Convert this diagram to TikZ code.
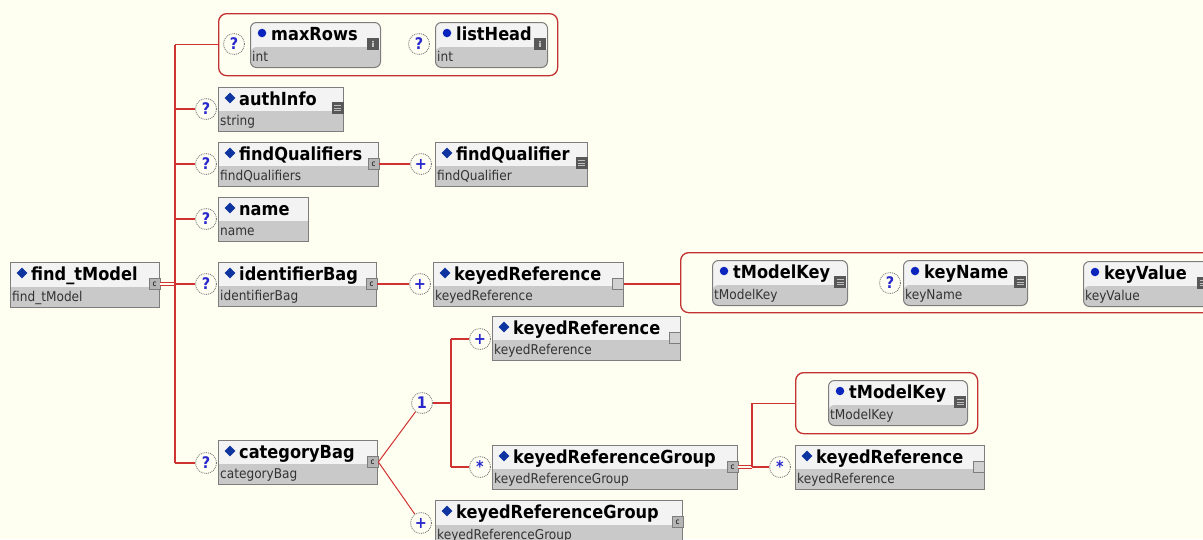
\documentclass[tikz,border=0pt]{standalone}
\usepackage{fontspec}
\setmainfont{DejaVu Sans}[FakeStretch=0.9]
\definecolor{bgc}{RGB}{255,255,241}
\definecolor{hdr}{RGB}{243,243,243}
\definecolor{tgray}{RGB}{201,201,201}
\definecolor{bord}{RGB}{125,125,125}
\definecolor{redc}{RGB}{208,50,50}
\definecolor{grpred}{RGB}{195,50,50}
\definecolor{dblue}{RGB}{14,52,160}
\definecolor{sblue}{RGB}{40,40,205}
\definecolor{icdark}{RGB}{88,88,88}
\tikzset{
  ebox/.style={draw=bord, fill=hdr, rectangle, anchor=north west, inner sep=0pt, line width=1pt,
    path picture={\fill[tgray] ([yshift=20.5pt]path picture bounding box.south west) rectangle (path picture bounding box.south east);}},
  abox/.style={ebox, rounded corners=6pt},
  ttl/.style={anchor=base west, inner sep=0pt, font=\fontsize{18}{20}\selectfont\bfseries, text=black},
  typ/.style={anchor=base west, inner sep=0pt, font=\fontsize{13.5}{15}\selectfont, text=black!80},
  dmd/.style={rectangle, rotate=45, fill=dblue, minimum size=7.5pt, inner sep=0pt},
  dotm/.style={circle, fill=dblue!70!blue, minimum size=8.5pt, inner sep=0pt},
  occ/.style={circle, draw=bord, densely dotted, fill=white!95!yellow, minimum size=21pt, inner sep=0pt, text=sblue, font=\fontsize{16}{16}\selectfont\bfseries, line width=0.9pt},
  conn/.style={draw=redc, line width=1.3pt},
  tconn/.style={draw=redc, line width=1pt, double=bgc, double distance=1.2pt},
  grp/.style={draw=grpred, rounded corners=8pt, line width=1.3pt, anchor=north west, inner sep=0pt, rectangle},
  ic/.style={rectangle, minimum size=11pt, inner sep=0pt, draw=bord, line width=0.7pt},
  cic/.style={ic, fill=tgray!90!black, font=\fontsize{8}{8}\selectfont, text=black},
  iic/.style={ic, fill=icdark, draw=icdark, text=white, font=\fontsize{8}{8}\selectfont\bfseries},
  lic/.style={ic, fill=icdark, draw=icdark, path picture={
    \foreach \k in {3,5.5,8}{\draw[white!75!black, line width=0.8pt] ([xshift=2pt,yshift=-\k pt]path picture bounding box.north west) -- ([xshift=-2pt,yshift=-\k pt]path picture bounding box.north east);}}},
  sic/.style={ic, fill=tgray!85}
}
\newcommand\bx[9]{%
  \node[#8, minimum width={(#4)-(#2)}, minimum height={(#5)-(#3)}] (#1) at (#2,#3) {};
  \node[#9] (#1-m) at ([xshift=12pt,yshift=-11pt]#1.north west) {};
  \node[ttl] (#1-t) at ([xshift=21pt,yshift=-18.5pt]#1.north west) {#6};
  \node[typ] (#1-s) at ([xshift=2pt,yshift=7pt]#1.south west) {#7};
}
\newcommand\icn[5]{\node[#2] (#1-i) at ([xshift=#3pt,yshift=#4pt]#1.north east) {#5};}
\begin{document}
\begin{tikzpicture}[x=1pt,y=-1pt]
\fill[bgc] (0,0) rectangle (1203,539);
\useasboundingbox (0,0) rectangle (1203,539);
\clip (0,0) rectangle (1203,539);

% groups
\node[grp, minimum width=339, minimum height=62] (grp1) at (218,13) {};
\node[grp, minimum width=540, minimum height=60] (grp2) at (680,252) {};
\node[grp, minimum width=182, minimum height=61] (grp3) at (795,372) {};

% root
\bx{root}{10}{262}{159}{307}{find\_tModel}{find\_tModel}{ebox}{dmd}
\icn{root}{cic}{-5.5}{-22}{c}

% group 1
\node[occ] (q1) at (234,44) {?};
\bx{mr}{250}{22}{380}{67}{maxRows}{int}{abox}{dotm}
\icn{mr}{iic}{-8}{-22}{i}
\node[occ] (q2) at (419,44) {?};
\bx{lh}{435}{22}{547}{67}{listHead}{int}{abox}{dotm}
\icn{lh}{iic}{-8}{-22}{i}

% authInfo
\node[occ] (q3) at (206,109) {?};
\bx{ai}{218}{87}{343}{131}{authInfo}{string}{ebox}{dmd}
\icn{ai}{lic}{-6.5}{-21}{}

% findQualifiers
\node[occ] (q4) at (206,164) {?};
\bx{fq}{218}{142}{378}{186}{findQualifiers}{findQualifiers}{ebox}{dmd}
\icn{fq}{cic}{-5.5}{-22}{c}
\node[occ] (p1) at (421,164) {+};
\bx{fql}{435}{142}{587}{186}{findQualifier}{findQualifier}{ebox}{dmd}
\icn{fql}{lic}{-6.5}{-21}{}

% name
\node[occ] (q5) at (206,219) {?};
\bx{nm}{218}{197}{308}{241}{name}{name}{ebox}{dmd}

% identifierBag
\node[occ] (q6) at (206,284) {?};
\bx{ib}{218}{262}{376}{306}{identifierBag}{identifierBag}{ebox}{dmd}
\icn{ib}{cic}{-5.5}{-22}{c}
\node[occ] (p2) at (420,284) {+};
\bx{kr1}{433}{262}{623}{306}{keyedReference}{keyedReference}{ebox}{dmd}
\icn{kr1}{sic}{-6}{-22}{}

% group 2
\bx{tk1}{712}{260}{847}{305}{tModelKey}{tModelKey}{abox}{dotm}
\icn{tk1}{lic}{-8}{-22}{}
\node[occ] (q7) at (890,283) {?};
\bx{kn}{903}{260}{1027}{305}{keyName}{keyName}{abox}{dotm}
\icn{kn}{lic}{-8}{-22}{}
\bx{kv}{1083}{261}{1210}{306}{keyValue}{keyValue}{abox}{dotm}
\icn{kv}{lic}{-8}{-22}{}

% categoryBag
\node[occ] (q8) at (206,463) {?};
\bx{cb}{218}{440}{377}{484}{categoryBag}{categoryBag}{ebox}{dmd}
\icn{cb}{cic}{-5.5}{-22}{c}
\node[occ] (one) at (422,403) {1};
\node[occ] (p3) at (480,339) {+};
\bx{kr2}{492}{316}{680}{360}{keyedReference}{keyedReference}{ebox}{dmd}
\icn{kr2}{sic}{-6}{-22}{}
\node[occ] (s1) at (480,467) {*};
\bx{krg1}{492}{445}{737}{489}{keyedReferenceGroup}{keyedReferenceGroup}{ebox}{dmd}
\icn{krg1}{cic}{-5.5}{-22}{c}
\bx{tk2}{828}{380}{967}{425}{tModelKey}{tModelKey}{abox}{dotm}
\icn{tk2}{lic}{-8}{-22}{}
\node[occ] (s2) at (780,467) {*};
\bx{kr3}{795}{445}{984}{489}{keyedReference}{keyedReference}{ebox}{dmd}
\icn{kr3}{sic}{-6}{-22}{}
\node[occ] (p4) at (421,523) {+};
\bx{krg2}{435}{500}{682}{545}{keyedReferenceGroup}{keyedReferenceGroup}{ebox}{dmd}
\icn{krg2}{cic}{-5.5}{-22}{c}

% connectors
\coordinate (j1) at (175,284);
\coordinate (j2) at (451,403);
\coordinate (j3) at (752,467);
\draw[tconn] (root-i.east) -- (root-i.east -| j1);
\draw[conn] (j1 |- grp1.west) -- (j1 |- q8.west);
\draw[conn] (j1 |- grp1.west) -- (grp1.west);
\draw[conn] (j1 |- q3.west) -- (q3.west);
\draw[conn] (j1 |- q4.west) -- (q4.west);
\draw[conn] (j1 |- q5.west) -- (q5.west);
\draw[conn] (j1 |- q6.west) -- (q6.west);
\draw[conn] (j1 |- q8.west) -- (q8.west);
\draw[conn] (fq-i.east) -- (p1.west);
\draw[conn] (ib-i.east) -- (p2.west);
\draw[conn] (kr1-i.east) -- (kr1-i.east -| grp2.west);
\draw[conn, line width=1pt] (cb-i.east) -- (one);
\draw[conn, line width=1pt] (cb-i.east) -- (p4);
\draw[conn] (one) -- (j2);
\draw[conn] (j2 |- p3.west) -- (j2 |- s1.west);
\draw[conn] (j2 |- p3.west) -- (p3.west);
\draw[conn] (j2 |- s1.west) -- (s1.west);
\draw[tconn] (krg1-i.east) -- (j3);
\draw[conn] (j3) |- (grp3.west);
\draw[conn] (j3) -- (s2.west);
\end{tikzpicture}
\end{document}
